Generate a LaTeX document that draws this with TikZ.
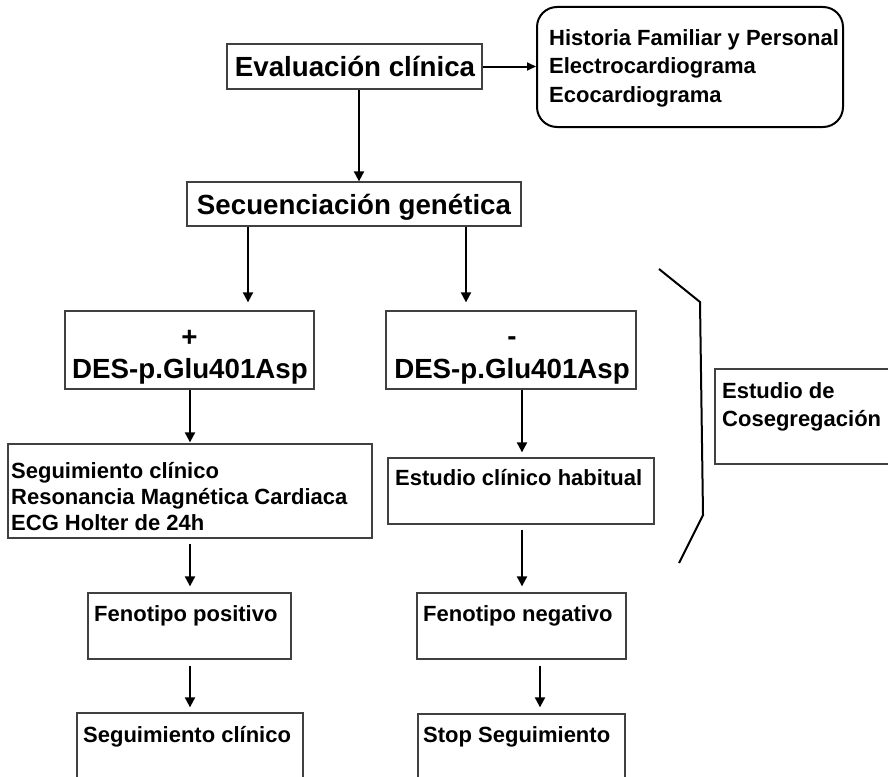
\documentclass[tikz,border=0pt]{standalone}
\usepackage{fontspec}
\setmainfont{Liberation Sans}
\usetikzlibrary{arrows.meta}
\begin{document}
\begin{tikzpicture}[x=1pt,y=-1pt,
  box/.style={draw=black!75, line width=1.3pt, rectangle, inner sep=0pt},
  rbox/.style={draw=black, line width=2pt, rectangle, rounded corners=20pt, inner sep=0pt},
  arr/.style={line width=2pt, -{Triangle[length=10pt,width=10pt]}},
  brace/.style={line width=2pt, line join=miter},
  big/.style={font=\fontsize{27.7}{32}\selectfont\bfseries, inner sep=0pt},
  med/.style={font=\fontsize{22}{28}\selectfont\bfseries, inner sep=0pt}]
\useasboundingbox (0,0) rectangle (888,776);
\clip (0,0) rectangle (888,776);
% boxes
\node[box, minimum width=255pt, minimum height=45pt] (eval) at (354.5,66.5) {};
\node[rbox, minimum width=306pt, minimum height=120pt] (hist) at (690,67) {};
\node[box, minimum width=334pt, minimum height=44pt] (seq) at (354,204) {};
\node[box, minimum width=249pt, minimum height=78pt] (desp) at (189.5,350) {};
\node[box, minimum width=250pt, minimum height=78pt] (desm) at (511,350) {};
\node[box, minimum width=364pt, minimum height=94pt] (seg) at (190,491) {};
\node[box, minimum width=266pt, minimum height=66pt] (est) at (521,491) {};
\node[box, minimum width=190pt, minimum height=95pt] (cos) at (810,416.5) {};
\node[box, minimum width=203pt, minimum height=66pt] (fp) at (189.5,626) {};
\node[box, minimum width=209pt, minimum height=66pt] (fn) at (521.5,626) {};
\node[box, minimum width=226pt, minimum height=100pt] (sc) at (190,763) {};
\node[box, minimum width=207pt, minimum height=100pt] (ss) at (521.5,764) {};
% texts
\node[big, anchor=base] (evalt) at (355,77) {Evaluación clínica};
\node[med, anchor=base west] (h1) at (549,46) {Historia Familiar y Personal};
\node[med, anchor=base west] (h2) at (549,74) {Electrocardiograma};
\node[med, anchor=base west] (h3) at (549,102) {Ecocardiograma};
\node[big, anchor=base] (seqt) at (354,214) {Secuenciación genética};
\node[big, anchor=base] (dp1) at (189.5,346) {+};
\node[big, anchor=base] (dp2) at (190,378) {DES-p.Glu401Asp};
\node[big, anchor=base] (dm1) at (512,345) {-};
\node[big, anchor=base] (dm2) at (512,378) {DES-p.Glu401Asp};
\node[med, anchor=base west] (s1) at (11,478) {Seguimiento clínico};
\node[med, anchor=base west] (s2) at (11,504) {Resonancia Magnética Cardiaca};
\node[med, anchor=base west] (s3) at (11,530) {ECG Holter de 24h};
\node[med, anchor=base west] (estt) at (395,485) {Estudio clínico habitual};
\node[med, anchor=base west] (c1) at (722,398) {Estudio de};
\node[med, anchor=base west] (c2) at (722,426) {Cosegregación};
\node[med, anchor=base west] (fpt) at (94,621) {Fenotipo positivo};
\node[med, anchor=base west] (fnt) at (423,621) {Fenotipo negativo};
\node[med, anchor=base west] (sct) at (83,742) {Seguimiento clínico};
\node[med, anchor=base west] (sst) at (423,742) {Stop Seguimiento};
% connectors
\draw[arr, -{Triangle[length=9pt,width=8pt]}] (eval.east) -- (hist.west |- eval.east);
\draw[arr] (eval.south -| 359,0) -- (seq.north -| 359,0);
\draw[arr, shorten >=8pt] (seq.south -| 248,0) -- (desp.north -| 248,0);
\draw[arr, shorten >=8pt] (seq.south -| 466,0) -- (desm.north -| 466,0);
\draw[arr, shorten >=1pt] (desp.south -| 190,0) -- (seg.north -| 190,0);
\draw[arr, shorten >=5pt] (desm.south -| 522,0) -- (est.north -| 522,0);
\draw[arr, shorten <=5pt, shorten >=6pt] (seg.south -| 190,0) -- (fp.north -| 190,0);
\draw[arr, shorten <=5pt, shorten >=6pt] (est.south -| 522,0) -- (fn.north -| 522,0);
\draw[arr, shorten <=6pt, shorten >=5pt] (fp.south -| 190,0) -- (sc.north -| 190,0);
\draw[arr, shorten <=6pt, shorten >=6pt] (fn.south -| 540,0) -- (ss.north -| 540,0);
% brace
\coordinate (b1) at (659,269);
\coordinate (b2) at (700,302);
\coordinate (b3) at (703,515);
\coordinate (b4) at (679,563);
\draw[brace] (b1) -- (b2) -- (b3) -- (b4);
\end{tikzpicture}
\end{document}
